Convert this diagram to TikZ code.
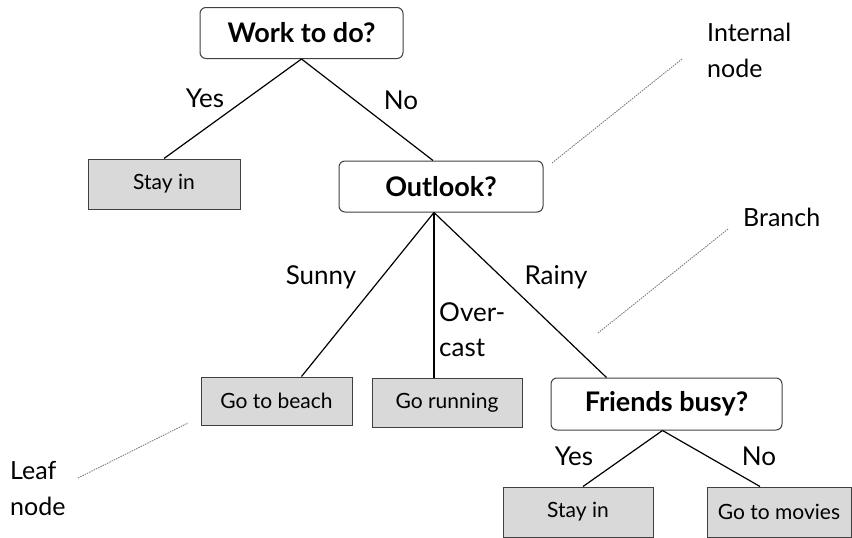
\documentclass[tikz,border=0pt]{standalone}
\usepackage{fontspec}
\setmainfont{Lato}
\usetikzlibrary{calc, positioning}

\tikzset{
  question/.style={draw=black!75, line width=1pt, rounded corners=6pt, fill=white,
    font=\fontsize{27}{30}\selectfont\bfseries, inner sep=0pt},
  leaf/.style={draw=black!75, line width=1pt, fill=gray!30,
    font=\fontsize{21}{24}\selectfont, inner sep=0pt},
  edgelabel/.style={font=\fontsize{26}{28}\selectfont, inner sep=0pt},
  note/.style={font=\fontsize{25}{36}\selectfont, align=left, inner sep=0pt},
  callout/.style={black!55, line width=0.8pt, dash pattern=on 1.5pt off 1pt},
  branchline/.style={line width=1.2pt}
}

\begin{document}
\begin{tikzpicture}[x=1pt, y=-1pt]
\useasboundingbox (0,0) rectangle (852,538);

\node[question, minimum width=203, minimum height=51] (work) at (301.5,33) {Work to do?};
\node[leaf, minimum width=152, minimum height=50] (stayA) at (164,184) {Stay in};
\node[question, minimum width=204, minimum height=51] (outlook) at (441,186.5) {Outlook?};

\node[leaf, minimum width=151, minimum height=48] (beach) at (276.5,401) {Go to beach};
\node[leaf, minimum width=150, minimum height=49] (running) at (447,402.5) {Go running};
\node[question, minimum width=231, minimum height=52] (friends) at (666.5,404) {Friends busy?};

\node[leaf, minimum width=150, minimum height=50] (stayB) at (578,512) {Stay in};
\node[leaf, minimum width=144, minimum height=50] (movies) at (779,512) {Go to movies};

\draw[branchline] (work.south) -- (stayA.north);
\draw[branchline] (work.south) -- ([xshift=-8pt]outlook.north);
\draw[branchline] ([xshift=-7pt]outlook.south) -- ([xshift=25pt]beach.north);
\draw[branchline] ([xshift=-7pt]outlook.south) -- ([xshift=-13pt]running.north);
\draw[branchline] ([xshift=-7pt]outlook.south) -- ([xshift=-60pt]friends.north);
\draw[branchline] ([xshift=-4pt]friends.south) -- ([xshift=5pt]stayB.north);
\draw[branchline] ([xshift=-4pt]friends.south) -- ([xshift=-19pt]movies.north);

\node[edgelabel] (yesA) at (205,98) {Yes};
\node[edgelabel] (noA) at (401,100) {No};
\node[edgelabel] (sunny) at (321,277) {Sunny};
\node[edgelabel, align=left, anchor=west, font=\fontsize{26}{35}\selectfont] (overcast) at (439,329.5) {Over-\\cast};
\node[edgelabel] (rainy) at (556,277) {Rainy};
\node[edgelabel] (yesB) at (574,456) {Yes};
\node[edgelabel] (noB) at (759,456) {No};

\node[note, anchor=west] (internal) at (707,50.5) {Internal\\node};
\node[note, anchor=west] (branchnote) at (743,217) {Branch};
\node[note, anchor=west] (leafnote) at (10,488.5) {Leaf\\node};

\coordinate (Itop) at (682,59);
\coordinate (Ibot) at (552,163);
\coordinate (Btop) at (728,229);
\coordinate (Bbot) at (598,333);
\coordinate (Lleft) at (78,478);
\coordinate (Lright) at (188,423);

\draw[callout] (Itop) -- (Ibot);
\draw[callout] (Btop) -- (Bbot);
\draw[callout] (Lleft) -- (Lright);
\end{tikzpicture}
\end{document}
